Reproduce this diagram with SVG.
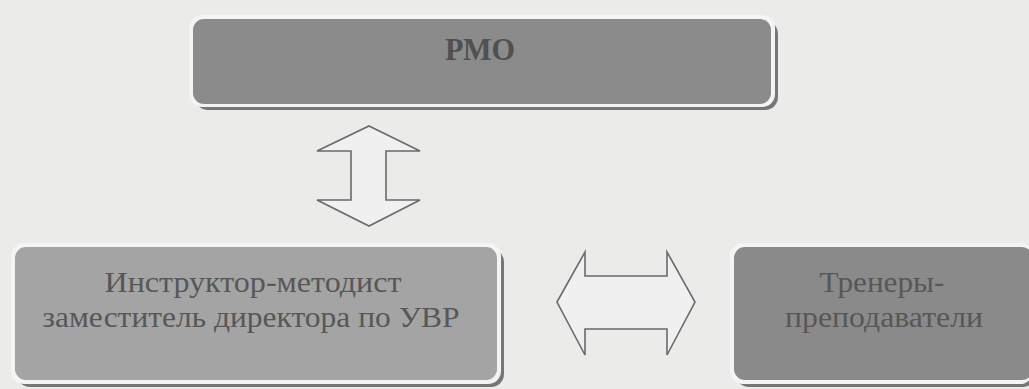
<svg xmlns="http://www.w3.org/2000/svg" width="1029" height="389" viewBox="0 0 1029 389">
<defs>
<style>
.bg{fill:#ebebea}
.shadow{fill:#767676}
.halo{fill:#f4f4f4}
.t{font-family:"Liberation Serif","Times New Roman",serif;fill:#575757;text-anchor:middle}
.arrow{fill:#f0f0f0;stroke:#6a6a6a;stroke-width:1.6;stroke-linejoin:miter}
</style>
</defs>
<rect class="bg" x="0" y="0" width="1029" height="389"/>
<g id="node-rmo">
<rect class="shadow" x="195" y="21" width="583" height="89" rx="13"/>
<rect class="halo" x="189" y="15" width="586" height="92" rx="13"/>
<rect x="193" y="19" width="578" height="85" rx="11" fill="#8b8b8b"/>
<text class="t" x="480" y="60" font-size="31" font-weight="bold" fill="#505050" style="fill:#505050" textLength="70" lengthAdjust="spacingAndGlyphs">РМО</text>
</g>
<g id="node-instructor">
<rect class="shadow" x="17" y="249" width="487" height="138" rx="13"/>
<rect class="halo" x="11" y="243" width="490" height="141" rx="13"/>
<rect x="15" y="247" width="482" height="133" rx="11" fill="#a4a4a4"/>
<text class="t" x="253" y="292" font-size="29" textLength="297" lengthAdjust="spacingAndGlyphs">Инструктор-методист</text>
<text class="t" x="251" y="327" font-size="29" textLength="417" lengthAdjust="spacingAndGlyphs">заместитель директора по УВР</text>
</g>
<g id="node-trainers">
<rect class="shadow" x="736" y="249" width="300" height="138" rx="13"/>
<rect class="halo" x="730" y="243" width="303" height="141" rx="13"/>
<rect x="734" y="247" width="299" height="133" rx="11" fill="#8a8a8a"/>
<text class="t" x="882" y="292" font-size="29" textLength="125" lengthAdjust="spacingAndGlyphs">Тренеры-</text>
<text class="t" x="884" y="327" font-size="29" textLength="198" lengthAdjust="spacingAndGlyphs">преподаватели</text>
</g>
<g id="connectors">
<polygon class="arrow" points="369,126 420,151 386,151 386,200 420,200 369,226 317,200 351,200 351,151 317,151"/>
<polygon class="arrow" points="557,302 585,252 585,276 667,276 667,252 695,302 667,355 667,329 585,329 585,355"/>
</g>
</svg>
